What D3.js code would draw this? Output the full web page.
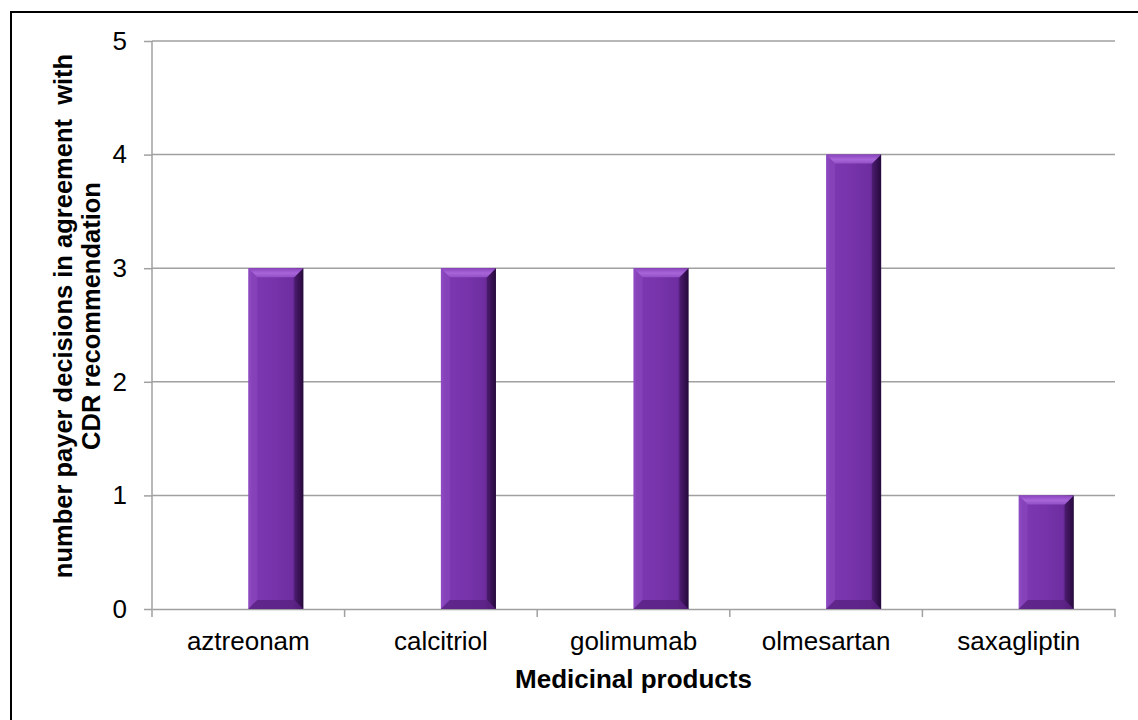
<!DOCTYPE html>
<html><head><meta charset="utf-8">
<script src="https://cdn.jsdelivr.net/npm/d3@7"></script>
<style>body{margin:0;background:#fff;}svg{display:block;font-family:"Liberation Sans",Arial,sans-serif;}</style>
</head><body>
<svg id="c" width="1138" height="720"></svg>
<script>
const categories = ["aztreonam","calcitriol","golimumab","olmesartan","saxagliptin"];
const seriesNames = ["blank","agreement"];
const blankValues = [0,0,0,0,0];
const agreementValues = [3,3,3,4,1];
const yTicks = [0,1,2,3,4,5];

const svg = d3.select("#c");
const m = {left:152, right:1115, top:41, bottom:609};
const FONT = "Liberation Sans, Arial, sans-serif";

// outer frame
svg.append("path").attr("d","M11,720 L11,12 L1138,12").attr("fill","none").attr("stroke","#000").attr("stroke-width",2);

const x = d3.scaleBand().domain(categories).range([m.left,m.right]).paddingInner(0).paddingOuter(0);
const xs = d3.scaleBand().domain(seriesNames).range([0,x.bandwidth()]).paddingInner(0).paddingOuter(0.75);
const y = d3.scaleLinear().domain([0,5]).range([m.bottom,m.top]);

// gridlines
svg.append("g").selectAll("line").data(yTicks.filter(d=>d>0)).join("line")
  .attr("x1",m.left).attr("x2",m.right).attr("y1",d=>y(d)).attr("y2",d=>y(d))
  .attr("stroke","#a0a0a0").attr("stroke-width",1.5);

// y axis
const ya = svg.append("g").attr("transform",`translate(${m.left},0)`)
  .call(d3.axisLeft(y).tickValues(yTicks).tickSize(8).tickPadding(17).tickFormat(d3.format("d")));
ya.attr("font-size",null).attr("font-family",null);
ya.select(".domain").attr("stroke","#a0a0a0").attr("stroke-width",1.5).attr("d",`M0,${m.top}V${m.bottom}`);
ya.selectAll(".tick line").attr("stroke","#a0a0a0").attr("stroke-width",1.5);
ya.selectAll(".tick text").style("font-size","26px").attr("fill","#000").style("font-family",FONT);

// x axis
const xa = svg.append("g").attr("transform",`translate(0,${m.bottom})`)
  .call(d3.axisBottom(x).tickSize(0));
xa.attr("font-size",null).attr("font-family",null);
xa.select(".domain").attr("stroke","#a0a0a0").attr("stroke-width",1.5);
xa.selectAll(".tick text").attr("y",41).attr("dy",0).style("font-size","26px").attr("fill","#000").style("font-family",FONT);
const bounds = categories.map(c=>x(c)).concat([m.right]);
svg.append("g").selectAll("line").data(bounds).join("line")
  .attr("x1",d=>d).attr("x2",d=>d).attr("y1",m.bottom).attr("y2",m.bottom+8)
  .attr("stroke","#a0a0a0").attr("stroke-width",1.5);

// gradients
const defs = svg.append("defs");
const g1 = defs.append("linearGradient").attr("id","bodyG").attr("x1","0").attr("x2","1").attr("y1","0").attr("y2","0");
[[0,"#8a46bf"],[0.08,"#7c38b0"],[0.5,"#7633aa"],[0.8,"#6e2ea0"],[0.9,"#4a1a6c"],[1,"#220838"]].forEach(([o,c])=>g1.append("stop").attr("offset",o).attr("stop-color",c));
const g2 = defs.append("linearGradient").attr("id","topG").attr("x1","0").attr("x2","0").attr("y1","0").attr("y2","1");
[[0,"#8a44be"],[0.55,"#a865d8"],[1,"#9250c6"]].forEach(([o,c])=>g2.append("stop").attr("offset",o).attr("stop-color",c));

const data = categories.map((c,i)=>({c, v:agreementValues[i]}));
const bw = xs.bandwidth();
const bev = 9;
const bars = svg.append("g").selectAll("g").data(data).join("g")
  .attr("transform",d=>`translate(${x(d.c)+xs("agreement")},0)`);
bars.append("rect").attr("x",0).attr("width",bw).attr("y",d=>y(d.v)).attr("height",d=>y(0)-y(d.v)).attr("fill","url(#bodyG)");
// left bevel
bars.append("path").attr("d",d=>{const t=y(d.v),b=y(0);return `M0,${t}L0,${b}L${bev},${b-bev}L${bev},${t+bev}Z`;}).attr("fill","#9a58cc").attr("opacity",0.3);
// right bevel
bars.append("path").attr("d",d=>{const t=y(d.v),b=y(0);return `M${bw},${t}L${bw},${b}L${bw-bev},${b-bev}L${bw-bev},${t+bev}Z`;}).attr("fill","#2c0c44").attr("opacity",0.4);
// top bevel
bars.append("path").attr("d",d=>{const t=y(d.v);return `M0,${t}L${bw},${t}L${bw-bev},${t+bev}L${bev},${t+bev}Z`;}).attr("fill","url(#topG)");
// bottom bevel
bars.append("path").attr("d",d=>{const b=y(0);return `M0,${b}L${bw},${b}L${bw-bev},${b-bev}L${bev},${b-bev}Z`;}).attr("fill","#5a2282").attr("opacity",0.8);

// axis titles
svg.append("text").attr("x",(m.left+m.right)/2).attr("y",688).attr("text-anchor","middle")
  .style("font-size","26px").attr("font-weight","bold").text("Medicinal products");
const yt = svg.append("text").attr("transform",`translate(0,316) rotate(-90)`)
  .attr("text-anchor","middle").style("font-size","25.5px").attr("font-weight","bold");
yt.append("tspan").attr("x",0).attr("y",72).style("white-space","pre").text("number payer decisions in agreement  with");
yt.append("tspan").attr("x",0).attr("y",100).text("CDR recommendation");
</script>
</body></html>
